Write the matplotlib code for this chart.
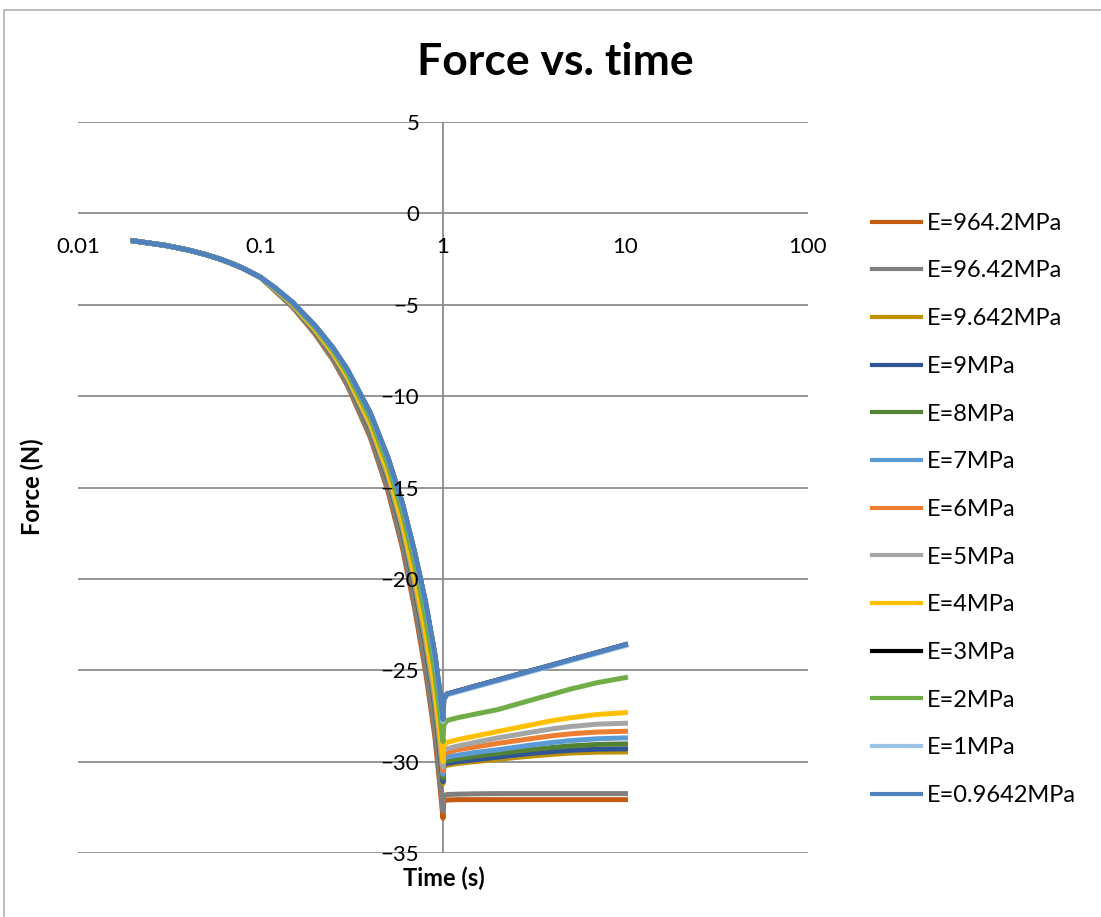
import matplotlib.pyplot as plt
from matplotlib.patches import Rectangle
from matplotlib.ticker import NullLocator

plt.rcParams['font.family'] = ['Lato', 'DejaVu Sans']

# early part of the ramp, identical for every modulus
t_early = [0.02, 0.03, 0.04, 0.05, 0.06, 0.07, 0.08, 0.1]
f_early = [-1.5, -1.75, -2.0, -2.25, -2.5, -2.75, -3.0, -3.5]

# rest of the loading ramp (up to 1 s) and the hold to 10 s
t_ramp = [0.12, 0.15, 0.2, 0.25, 0.3, 0.4, 0.5, 0.6, 0.7, 0.8, 0.9, 0.95, 1.0]
t_hold = [1.01, 1.05, 1.2, 1.5, 2, 3, 4, 5, 7, 10]

labels = ['E=964.2MPa', 'E=96.42MPa', 'E=9.642MPa', 'E=9MPa', 'E=8MPa',
          'E=7MPa', 'E=6MPa', 'E=5MPa', 'E=4MPa', 'E=3MPa', 'E=2MPa',
          'E=1MPa', 'E=0.9642MPa']

# force (N) for each modulus on t_ramp + t_hold
f_964_2 = [-4.23, -5.13, -6.63, -8.03, -9.44, -12.27, -15.22, -18.32, -21.64, -24.99, -28.55, -30.77, -33.1,
           -32.15, -32.1, -32.08, -32.08, -32.08, -32.08, -32.08, -32.08, -32.08, -32.08]
f_96_42 = [-4.22, -5.11, -6.59, -7.98, -9.38, -12.17, -15.08, -18.14, -21.41, -24.71, -28.22, -30.41, -32.7,
           -31.85, -31.8, -31.78, -31.76, -31.75, -31.75, -31.75, -31.75, -31.75, -31.75]
f_9_642 = [-4.17, -5.04, -6.47, -7.80, -9.13, -11.80, -14.57, -17.46, -20.55, -23.65, -26.96, -29.02, -31.2,
           -30.25, -30.2, -30.1, -30.0, -29.87, -29.7, -29.6, -29.53, -29.48, -29.47]
f_9 = [-4.17, -5.03, -6.46, -7.78, -9.11, -11.77, -14.54, -17.41, -20.50, -23.59, -26.88, -28.94, -31.1,
       -30.15, -30.1, -30.0, -29.9, -29.75, -29.55, -29.45, -29.38, -29.32, -29.3]
f_8 = [-4.16, -5.02, -6.44, -7.76, -9.08, -11.72, -14.46, -17.32, -20.38, -23.44, -26.70, -28.74, -30.9,
       -30.0, -29.95, -29.85, -29.7, -29.55, -29.35, -29.22, -29.14, -29.06, -29.03]
f_7 = [-4.16, -5.02, -6.43, -7.74, -9.05, -11.68, -14.40, -17.24, -20.27, -23.31, -26.55, -28.58, -30.7,
       -29.85, -29.75, -29.65, -29.5, -29.35, -29.1, -28.95, -28.85, -28.75, -28.7]
f_6 = [-4.15, -5.00, -6.41, -7.71, -9.01, -11.62, -14.33, -17.14, -20.15, -23.16, -26.38, -28.38, -30.5,
       -29.6, -29.5, -29.35, -29.2, -29.0, -28.75, -28.58, -28.48, -28.38, -28.34]
f_5 = [-4.15, -5.00, -6.39, -7.69, -8.99, -11.58, -14.27, -17.06, -20.05, -23.04, -26.22, -28.22, -30.3,
       -29.4, -29.3, -29.15, -28.95, -28.7, -28.4, -28.2, -28.08, -27.95, -27.9]
f_4 = [-4.14, -4.98, -6.37, -7.65, -8.94, -11.50, -14.17, -16.92, -19.87, -22.82, -25.97, -27.94, -30.0,
       -29.1, -28.95, -28.8, -28.6, -28.35, -28.0, -27.75, -27.6, -27.42, -27.32]
f_3 = [-4.07, -4.87, -6.17, -7.37, -8.56, -10.93, -13.38, -15.88, -18.56, -21.21, -24.05, -25.83, -27.7,
       -26.6, -26.3, -26.14, -25.87, -25.53, -25.04, -24.7, -24.43, -24.03, -23.6]
f_2 = [-4.11, -4.93, -6.27, -7.52, -8.76, -11.23, -13.80, -16.43, -19.25, -22.06, -25.06, -26.94, -28.9,
       -28.0, -27.75, -27.6, -27.4, -27.15, -26.65, -26.3, -26.03, -25.68, -25.4]
f_1 = [-4.07, -4.87, -6.18, -7.38, -8.57, -10.95, -13.41, -15.92, -18.61, -21.27, -24.13, -25.91, -27.8,
       -26.65, -26.35, -26.19, -25.92, -25.58, -25.09, -24.75, -24.48, -24.08, -23.65]
f_0_9642 = [-4.07, -4.87, -6.17, -7.37, -8.56, -10.93, -13.38, -15.88, -18.56, -21.21, -24.05, -25.83, -27.7,
            -26.6, -26.3, -26.14, -25.87, -25.53, -25.04, -24.7, -24.43, -24.03, -23.6]

forces = [f_964_2, f_96_42, f_9_642, f_9, f_8, f_7, f_6, f_5, f_4, f_3, f_2, f_1, f_0_9642]
colors = ['#c55a11', '#7f7f7f', '#bf9000', '#2f5597', '#548235', '#5b9bd5',
          '#ed7d31', '#a5a5a5', '#ffc000', '#000000', '#70ad47', '#9dc3e6', '#4f81bd']

x_ticks = [0.01, 0.1, 1, 10, 100]
x_ticklabels = ['0.01', '0.1', '1', '10', '100']
y_ticks = [-35, -30, -25, -20, -15, -10, -5, 0, 5]

W, H = 1101, 917
fig = plt.figure(figsize=(W / 100, H / 100), dpi=100)
ax = fig.add_axes([78 / W, 1 - 853 / H, 730 / W, 731 / H])

time = t_early + t_ramp + t_hold
for f, lab, c in zip(forces, labels, colors):
    ax.plot(time, f_early + f, color=c, lw=3.6, label=lab, zorder=2)

# gridlines and the value axis at x = 1 sit under the curves
grid_c = '#8c8c8c'
for y in y_ticks:
    ax.axhline(y, color=grid_c, lw=1.3, zorder=0.5)
ax.axvline(1, color=grid_c, lw=1.3, zorder=0.5)

ax.set_xscale('log')
ax.set_xlim(0.01, 100)
ax.set_ylim(-35, 5)
ax.set_xticks(x_ticks)
ax.set_xticklabels(x_ticklabels)
ax.xaxis.set_minor_locator(NullLocator())
ax.set_yticks(y_ticks)
ax.set_axisbelow(False)  # tick labels over the curves

for s in ['top', 'right', 'left', 'bottom']:
    ax.spines[s].set_visible(False)
ax.spines['left'].set_position(('data', 1))
ax.spines['bottom'].set_position(('data', 0))
ax.tick_params(length=0, labelsize=16, pad=17)

fig.text(555 / W, 1 - 62 / H, 'Force vs. time', ha='center', va='center',
         fontsize=32, fontweight='bold')
fig.text(444 / W, 1 - 878 / H, 'Time (s)', ha='center', va='center',
         fontsize=17, fontweight='bold')
fig.text(32 / W, 1 - 487 / H, 'Force (N)', ha='center', va='center',
         rotation=90, fontsize=17, fontweight='bold')

leg = fig.legend(loc='upper left', bbox_to_anchor=(860 / W, 1 - 201 / H),
                 frameon=False, fontsize=17, handlelength=2.1,
                 handletextpad=0.25, labelspacing=1.13, borderpad=0)
for h in leg.get_lines():
    h.set_linewidth(3)

# chart frame
fig.patches.append(Rectangle((4 / W, -0.1), 2, 1 - 10 / H + 0.1,
                             transform=fig.transFigure, fill=False,
                             edgecolor='#b0b0b0', lw=1.2))

fig.savefig('out.png', dpi=100)
